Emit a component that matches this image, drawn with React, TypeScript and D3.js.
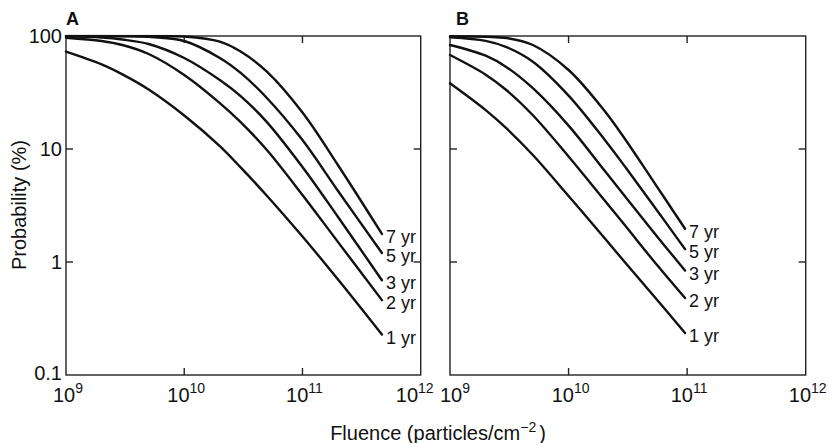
import React from "react";
import * as d3 from "d3";

// ---- data ----
const SERIES_NAMES = ["1 yr", "2 yr", "3 yr", "5 yr", "7 yr"];

// Panel A
const FLUENCE_A = [1e9, 2e9, 3e9, 5e9, 1e10, 2e10, 3e10, 5e10, 1e11, 2e11, 4.7e11];
const A_1YR = [72.6, 56.0, 45.7, 33.6, 19.8, 10.6, 6.87, 3.86, 1.68, 0.7, 0.228];
const A_2YR = [96.5, 90.3, 83.2, 69.3, 45.2, 25.5, 17.3, 9.8, 3.92, 1.5, 0.46];
const A_3YR = [99.4, 97.0, 93.1, 85.0, 63.9, 40.8, 29.4, 17.3, 6.93, 2.5, 0.69];
const A_5YR = [100, 100, 99.6, 98.4, 90.3, 63.9, 47.1, 28.3, 12.0, 4.25, 1.2];
const A_7YR = [100, 100, 100, 100, 98.9, 89.1, 72.8, 48.3, 21.0, 7.18, 1.77];

// Panel B
const FLUENCE_B = [1e9, 2e9, 3e9, 5e9, 1e10, 2e10, 3e10, 5e10, 9.6e10];
const B_1YR = [38.2, 22.1, 15.2, 8.85, 3.84, 1.64, 0.99, 0.53, 0.235];
const B_2YR = [67.9, 45.5, 33.1, 19.9, 8.6, 3.54, 2.1, 1.08, 0.48];
const B_3YR = [83.2, 66.9, 53.0, 34.5, 16.1, 6.48, 3.8, 1.94, 0.84];
const B_5YR = [97.4, 90.5, 79.6, 59.2, 29.7, 12.2, 6.96, 3.35, 1.3];
const B_7YR = [99.4, 98.4, 96.0, 83.2, 50.0, 21.9, 12.2, 5.5, 1.97];

const Y_TICKS = [0.1, 1, 10, 100];
const Y_TICK_LABELS = ["0.1", "1", "10", "100"];
const X_TICKS = [1e9, 1e10, 1e11, 1e12];
const X_TICK_EXPONENTS = ["9", "10", "11", "12"];

const PANEL_LETTERS = ["A", "B"];
const Y_TITLE = "Probability (%)";
const X_TITLE_MAIN = "Fluence (particles/cm";
const X_TITLE_SUP = "\u22122";

// ---- layout ----
const W = 835;
const H = 443;
const TOP = 36;
const BOTTOM = 375;
const FONT = "'Liberation Sans', Arial, Helvetica, sans-serif";

type PanelProps = {
  left: number;
  right: number;
  fluence: number[];
  series: number[][];
  index: number;
};

function Panel({ left, right, fluence, series, index }: PanelProps) {
  const x = d3.scaleLog().domain([1e9, 1e12]).range([left, right]);
  const y = d3.scaleLog().domain([0.1, 100]).range([BOTTOM, TOP]);
  const line = d3
    .line<number>()
    .x((_, i) => x(fluence[i]))
    .y((d) => y(d))
    .curve(d3.curveCatmullRom.alpha(0.5));
  const tl = 7;
  const innerY = Y_TICKS.slice(1, -1);
  const innerX = X_TICKS.slice(1, -1);
  const lastF = fluence[fluence.length - 1];
  const clipId = "clip" + index;

  return (
    <g>
      <defs>
        <clipPath id={clipId}>
          <rect x={left - 2} y={TOP - 1.3} width={right - left + 4} height={BOTTOM - TOP + 3} />
        </clipPath>
      </defs>
      <rect
        x={left}
        y={TOP}
        width={right - left}
        height={BOTTOM - TOP}
        fill="none"
        stroke="#222"
        strokeWidth={1.4}
      />
      {innerY.map((t) => (
        <g key={"y" + t} stroke="#222" strokeWidth={1.4}>
          <line x1={left} x2={left + tl} y1={y(t)} y2={y(t)} />
          <line x1={right - tl} x2={right} y1={y(t)} y2={y(t)} />
        </g>
      ))}
      {innerX.map((t) => (
        <g key={"x" + t} stroke="#222" strokeWidth={1.4}>
          <line x1={x(t)} x2={x(t)} y1={BOTTOM} y2={BOTTOM - tl} />
          <line x1={x(t)} x2={x(t)} y1={TOP} y2={TOP + tl} />
        </g>
      ))}
      <g clipPath={`url(#${clipId})`}>
        {series.map((vals, k) => (
          <path
            key={k}
            d={line(vals) || ""}
            fill="none"
            stroke="#111"
            strokeWidth={2.4}
            strokeLinejoin="round"
            strokeLinecap="round"
          />
        ))}
      </g>
      {series.map((vals, k) => (
        <text
          key={"l" + k}
          x={x(lastF) + 4}
          y={y(vals[vals.length - 1]) + 9}
          fontSize={18}
          fontFamily={FONT}
          fill="#111"
        >
          {SERIES_NAMES[k]}
        </text>
      ))}
      {index === 0 &&
        Y_TICKS.map((t, i) => (
          <text
            key={"yl" + t}
            x={left - 4}
            y={Math.min(y(t) + 7, 380)}
            textAnchor="end"
            fontSize={20}
            fontFamily={FONT}
            fill="#111"
          >
            {Y_TICK_LABELS[i]}
          </text>
        ))}
      {X_TICKS.map((t, i) => {
        let shift = 2;
        if (index === 0 && i === X_TICKS.length - 1) shift = -6;
        if (index === 1 && i === 0) shift = 5;
        return (
          <text
            key={"xl" + t}
            x={x(t) + shift}
            y={402}
            textAnchor="middle"
            fontSize={20}
            fontFamily={FONT}
            fill="#111"
          >
            10
            <tspan dy={-9} fontSize={14}>
              {X_TICK_EXPONENTS[i]}
            </tspan>
          </text>
        );
      })}
      <text
        x={index === 0 ? left : left + 6}
        y={25}
        fontSize={18}
        fontWeight="bold"
        fontFamily={FONT}
        fill="#111"
      >
        {PANEL_LETTERS[index]}
      </text>
    </g>
  );
}

export default function App() {
  return (
    <svg
      width={W}
      height={H}
      viewBox={`0 0 ${W} ${H}`}
      style={{ position: "absolute", left: 0, top: 0, background: "#fff" }}
    >
      <rect x={0} y={0} width={W} height={H} fill="#fff" />
      <Panel
        left={66}
        right={420.7}
        fluence={FLUENCE_A}
        series={[A_1YR, A_2YR, A_3YR, A_5YR, A_7YR]}
        index={0}
      />
      <Panel
        left={450}
        right={805.7}
        fluence={FLUENCE_B}
        series={[B_1YR, B_2YR, B_3YR, B_5YR, B_7YR]}
        index={1}
      />
      <text
        transform={`translate(26, 205) rotate(-90)`}
        textAnchor="middle"
        fontSize={20}
        fontFamily={FONT}
        fill="#111"
      >
        {Y_TITLE}
      </text>
      <text x={438} y={440} textAnchor="middle" fontSize={20} fontFamily={FONT} fill="#111">
        {X_TITLE_MAIN}
        <tspan dy={-8} fontSize={14}>
          {X_TITLE_SUP}
        </tspan>
        <tspan dy={8} dx={3}>
          )
        </tspan>
      </text>
    </svg>
  );
}
